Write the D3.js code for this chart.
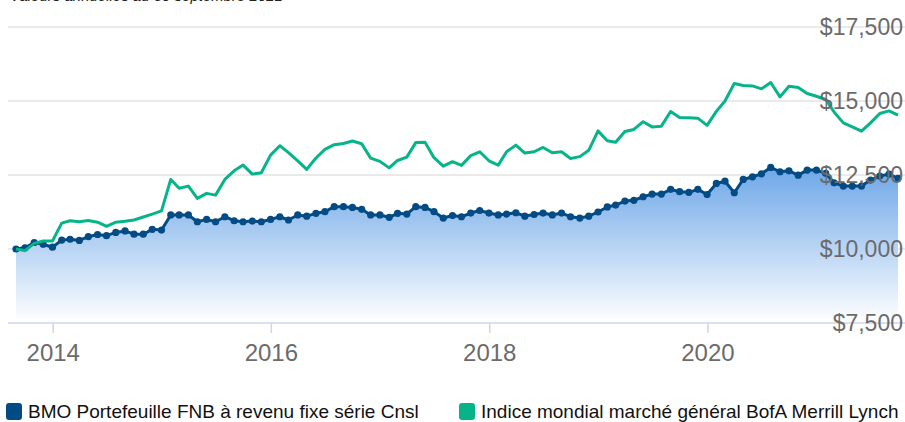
<!DOCTYPE html>
<html>
<head>
<meta charset="utf-8">
<script src="https://cdn.jsdelivr.net/npm/d3@7"></script>
<style>
  html, body { margin: 0; padding: 0; background: #fff; }
  svg { display: block; font-family: "Liberation Sans", Arial, sans-serif; }
</style>
</head>
<body>
<div id="chart"></div>
<script>
const width = 905;
const height = 422;

const title = "Valeurs annuelles au 30 septembre 2021";
const seriesNames = [
  "BMO Portefeuille FNB à revenu fixe série Cnsl",
  "Indice mondial marché général BofA Merrill Lynch"
];
const seriesColors = ["#034b84", "#06b489"];

// month ends, from 31 Aug 2013 to 30 Sep 2021
const startYear = 2013, startMonth = 8, monthCount = 98;

// growth of $10,000, fund
const fundValues = [
  10000, 10040, 10220, 10160, 10060, 10300, 10330, 10290, 10415, 10490,
  10450, 10560, 10610, 10500, 10500, 10665, 10640, 11150, 11150, 11150,
  10920, 11000, 10920, 11090, 10955, 10920, 10945, 10920, 11000, 11090,
  10980, 11150, 11110, 11205, 11260, 11430, 11430, 11405, 11340, 11150,
  11150, 11070, 11205, 11180, 11430, 11405, 11260, 11045, 11130, 11090,
  11215, 11300, 11215, 11150, 11180, 11225, 11110, 11165, 11215, 11150,
  11215, 11090, 11045, 11110, 11250, 11420, 11485, 11620, 11645, 11765,
  11855, 11855, 12015, 11935, 11915, 12015, 11840, 12215, 12290, 11900,
  12350, 12440, 12540, 12755, 12610, 12640, 12495, 12665, 12665, 12555,
  12235, 12125, 12125, 12125, 12330, 12465, 12530, 12385
];

// growth of $10,000, index
const indexValues = [
  10000, 9945, 10190, 10270, 10270, 10875, 10955, 10920, 10960, 10905,
  10765, 10905, 10935, 10980, 11080, 11180, 11290, 12350, 12050, 12125,
  11710, 11880, 11820, 12350, 12640, 12835, 12530, 12575, 13170, 13490,
  13255, 12975, 12690, 13075, 13365, 13525, 13565, 13650, 13555, 13070,
  12960, 12740, 12990, 13105, 13595, 13610, 13085, 12800, 12950, 12825,
  13155, 13285, 12980, 12835, 13285, 13510, 13240, 13285, 13430, 13250,
  13285, 13060, 13120, 13335, 13990, 13660, 13605, 13970, 14040, 14300,
  14125, 14150, 14645, 14445, 14430, 14420, 14175, 14650, 15000, 15590,
  15525, 15510, 15410, 15625, 15140, 15500, 15455, 15255, 15160, 15050,
  14630, 14260, 14125, 13980, 14260, 14580, 14665, 14520
];

const yTicks = [7500, 10000, 12500, 15000, 17500];
const xTickYears = [2014, 2016, 2018, 2020];

const dates = d3.range(monthCount).map(i => new Date(startYear, startMonth + i, 0));
const fund = dates.map((d, i) => ({ date: d, value: fundValues[i] }));
const index = dates.map((d, i) => ({ date: d, value: indexValues[i] }));

const plotLeft = 8, plotRight = 905;

const x = d3.scaleTime()
  .domain([dates[0], dates[dates.length - 1]])
  .range([16, 898]);

const y = d3.scaleLinear()
  .domain([7500, 17500])
  .range([323, 27]);

const svg = d3.select("#chart")
  .append("svg")
  .attr("width", width)
  .attr("height", height);

// title, cut off at the top of the frame as in the original capture
svg.append("text")
  .attr("x", 10)
  .attr("y", 1)
  .attr("font-size", 15)
  .attr("font-style", "italic")
  .attr("fill", "#222")
  .text(title);

// gradient for the fund area
const grad = svg.append("defs")
  .append("linearGradient")
  .attr("id", "areaFill")
  .attr("x1", 0).attr("y1", 0)
  .attr("x2", 0).attr("y2", 1);
grad.append("stop").attr("offset", "0%").attr("stop-color", "#6da7e8");
grad.append("stop").attr("offset", "100%").attr("stop-color", "#ffffff");

// horizontal grid lines
svg.append("g")
  .selectAll("line")
  .data(yTicks.filter(t => t !== 7500))
  .join("line")
  .attr("x1", plotLeft)
  .attr("x2", plotRight)
  .attr("y1", d => y(d))
  .attr("y2", d => y(d))
  .attr("stroke", "#e3e3e3")
  .attr("stroke-width", 1.5);

// fund area
const area = d3.area()
  .x(d => x(d.date))
  .y0(y(7500))
  .y1(d => y(d.value));

svg.append("path")
  .datum(fund)
  .attr("d", area)
  .attr("fill", "url(#areaFill)");

// x axis line and ticks
const xAxis = d3.axisBottom(x)
  .tickValues(xTickYears.map(yr => new Date(yr, 0, 1)))
  .tickFormat(d3.timeFormat("%Y"))
  .tickSize(10)
  .tickSizeOuter(0);

const xg = svg.append("g")
  .attr("transform", `translate(0,${y(7500)})`)
  .call(xAxis);
xg.select(".domain").remove();
xg.append("line")
  .attr("x1", plotLeft).attr("x2", plotRight)
  .attr("stroke", "#ccd6eb").attr("stroke-width", 1.5);
xg.selectAll(".tick line").attr("stroke", "#ccd6eb").attr("stroke-width", 1.5);
xg.selectAll(".tick text")
  .attr("y", 38)
  .attr("dy", 0)
  .attr("font-size", 24)
  .attr("font-family", "'Liberation Sans', Arial, sans-serif")
  .attr("fill", "#6b6b6b");

// lines
const line = d3.line()
  .x(d => x(d.date))
  .y(d => y(d.value));

svg.append("path")
  .datum(fund)
  .attr("d", line)
  .attr("fill", "none")
  .attr("stroke", seriesColors[0])
  .attr("stroke-width", 3)
  .attr("stroke-linejoin", "round");

svg.append("g")
  .selectAll("circle")
  .data(fund)
  .join("circle")
  .attr("cx", d => x(d.date))
  .attr("cy", d => y(d.value))
  .attr("r", 3.6)
  .attr("fill", seriesColors[0]);

svg.append("path")
  .datum(index)
  .attr("d", line)
  .attr("fill", "none")
  .attr("stroke", seriesColors[1])
  .attr("stroke-width", 3)
  .attr("stroke-linejoin", "round");

// y axis labels on the right
const yAxis = d3.axisLeft(y)
  .tickValues(yTicks)
  .tickFormat(d => "$" + d3.format(",")(d))
  .tickSize(0);

const yg = svg.append("g")
  .attr("transform", `translate(${width - 2},0)`)
  .call(yAxis);
yg.select(".domain").remove();
yg.selectAll(".tick text")
  .attr("x", 0)
  .attr("font-size", 23)
  .attr("font-family", "'Liberation Sans', Arial, sans-serif")
  .attr("fill", "#6b6b6b");

// legend
const legendX = [6, 459];
const legend = svg.append("g")
  .selectAll("g")
  .data(seriesNames)
  .join("g")
  .attr("transform", (d, i) => `translate(${legendX[i]},403)`);

legend.append("rect")
  .attr("width", 16)
  .attr("height", 17)
  .attr("rx", 3)
  .attr("fill", (d, i) => seriesColors[i]);

legend.append("text")
  .attr("x", 22)
  .attr("y", 15)
  .attr("font-size", 19)
  .attr("fill", "#111")
  .text(d => d);
</script>
</body>
</html>
